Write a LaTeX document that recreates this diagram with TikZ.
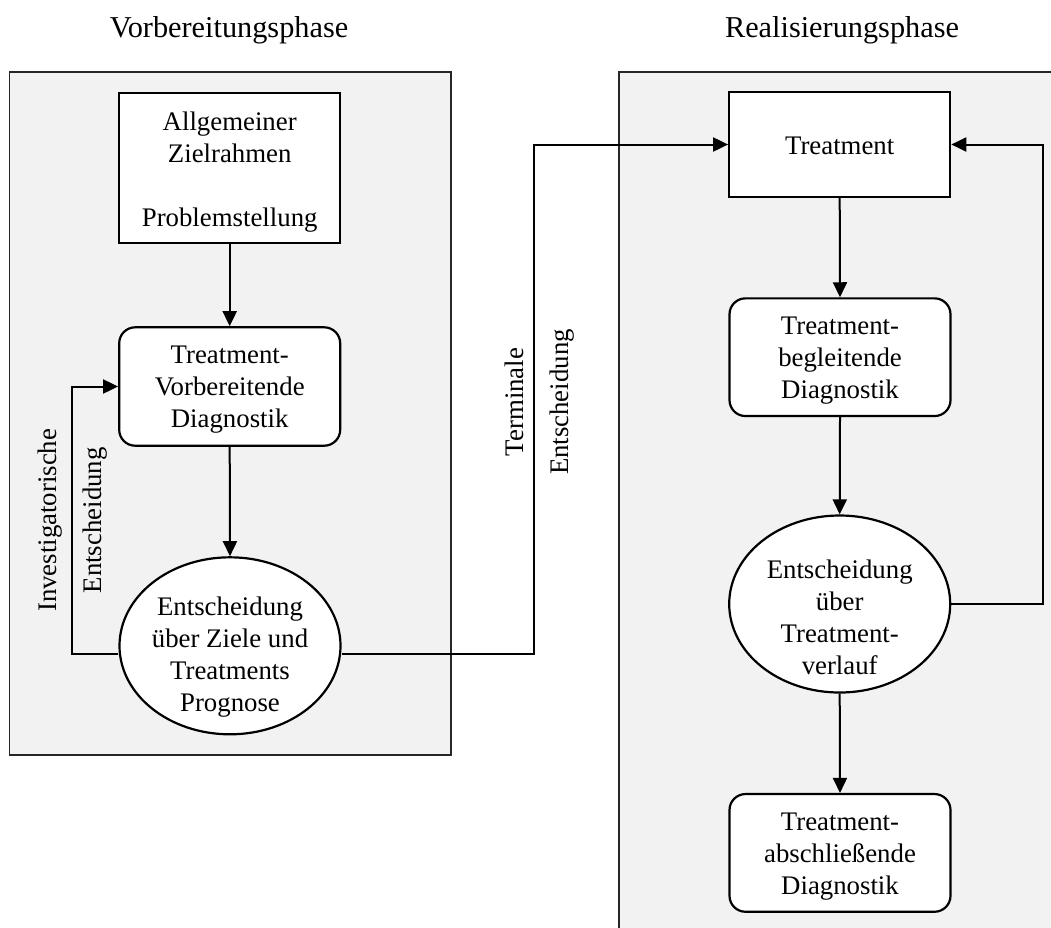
\documentclass[tikz,border=0pt]{standalone}
\usepackage{fontspec}
\setmainfont{Liberation Serif}
\usetikzlibrary{arrows.meta,shapes.geometric}
\tikzset{
  panel/.style={draw=black!85,line width=1.9pt,fill=black!5},
  shapebox/.style={draw=black,line width=2.2pt,fill=white,inner sep=0pt,
    minimum width=221pt},
  roundbox/.style={shapebox,rounded corners=16pt},
  ellbox/.style={draw=black,line width=2.2pt,fill=white,ellipse,inner sep=0pt,
    minimum width=221pt,minimum height=177pt},
  txt/.style={font=\fontsize{26.8}{32}\selectfont,align=center,inner sep=0pt},
  rottxt/.style={font=\fontsize{26.8}{45}\selectfont,align=center,inner sep=0pt,rotate=90},
  ttl/.style={font=\fontsize{30.3}{36}\selectfont,inner sep=0pt,anchor=base},
  conn/.style={draw=black,line width=2pt},
  arr/.style={conn,-{Triangle[length=15pt,width=14pt]}}
}
\begin{document}
\begin{tikzpicture}[x=1pt,y=-1pt]
\clip (0,0) rectangle (1051,927);
\fill[white] (0,0) rectangle (1051,927);
% panels
\draw[panel] (9.5,72.3) rectangle (450.7,755);
\draw[panel] (619,72.3) rectangle (1080,960);
% titles
\node[ttl] (t1) at (229,37.3) {Vorbereitungsphase};
\node[ttl] (t2) at (842,37.3) {Realisierungsphase};
% left column
\node[shapebox,minimum height=150.6pt] (A) at (229.7,168) {};
\node[txt] (At) at (229.7,172.5) {Allgemeiner\\Zielrahmen\\\mbox{}\\Problemstellung};
\node[roundbox,minimum height=118.4pt] (B) at (229.7,386.5) {};
\node[txt] (Bt) at (229.7,389.4) {Treatment-\\Vorbereitende\\Diagnostik};
\node[ellbox] (C) at (230,645.8) {};
\node[txt] (Ct) at (230,657.1) {Entscheidung\\über Ziele und\\Treatments\\Prognose};
% right column
\node[shapebox,minimum height=104.4pt] (T) at (839.7,144.5) {};
\node[txt] (Tt) at (839.7,146.2) {Treatment};
\node[roundbox,minimum height=117.7pt] (E) at (840,357.2) {};
\node[txt] (Et) at (840,360.2) {Treatment-\\begleitende\\Diagnostik};
\node[ellbox] (D) at (839.7,604) {};
\node[txt] (Dt) at (839.7,617.5) {Entscheidung\\über\\Treatment-\\verlauf};
\node[roundbox,minimum height=117.7pt] (F) at (840,852.9) {};
\node[txt] (Ft) at (840,856.4) {Treatment-\\abschließende\\Diagnostik};
% connectors
\draw[arr] (A.south) -- (B.north);
\draw[arr] (B.south) -- (C.north);
\coordinate (Cw) at ([yshift=-8.2pt]C.west);
\coordinate (Ce) at ([yshift=-8.2pt]C.east);
\coordinate (L1) at (72.3,654);
\coordinate (R1) at (534.3,654);
\draw[arr] (Cw) -- (L1) |- (B.west);
\draw[arr] (Ce) -- (R1) |- (T.west);
\draw[arr] (T.south) -- (E.north);
\draw[arr] (E.south) -- (D.north);
\draw[arr] (D.south) -- (F.north);
\coordinate (R2) at (1042.7,604);
\draw[arr] (D.east) -- (R2) |- (T.east);
% rotated labels
\node[rottxt] (lab1) at (72.8,520.3) {Investigatorische\\Entscheidung};
\node[rottxt] (lab2) at (539.5,402) {Terminale\\Entscheidung};
\end{tikzpicture}
\end{document}
